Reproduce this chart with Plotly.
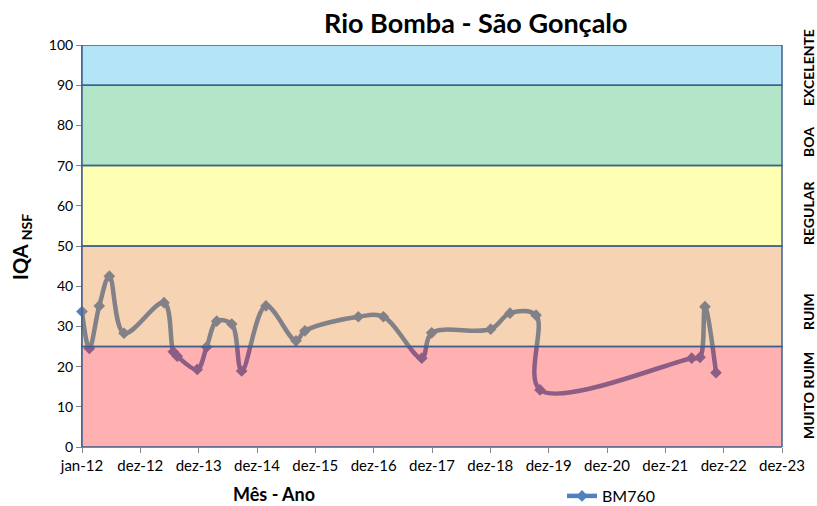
import pandas as pd
import plotly.graph_objects as go

# ---- data ----
dates = ["2012-01-01", "2012-02-16", "2012-04-18", "2012-06-20", "2012-09-20",
         "2013-05-28", "2013-07-25", "2013-08-19", "2013-12-22", "2014-02-19",
         "2014-04-23", "2014-07-26", "2014-09-26", "2015-02-25", "2015-09-01",
         "2015-10-27", "2016-09-25", "2017-03-01", "2017-10-27", "2017-12-28",
         "2019-01-01", "2019-05-02", "2019-10-12", "2019-11-06", "2022-06-12",
         "2022-08-03", "2022-09-03", "2022-11-11"]
iqa = [33.7, 24.5, 35.1, 42.5, 28.3,
       35.9, 23.7, 22.6, 19.3, 24.9,
       31.3, 30.6, 18.9, 35.1, 26.4,
       28.9, 32.4, 32.4, 22.1, 28.4,
       29.3, 33.3, 32.8, 14.2, 22.1,
       22.3, 34.9, 18.5]
series_name = "BM760"

tick_labels = ["jan-12", "dez-12", "dez-13", "dez-14", "dez-15", "dez-16", "dez-17",
               "dez-18", "dez-19", "dez-20", "dez-21", "dez-22", "dez-23"]

band_names = ["MUITO RUIM", "RUIM", "REGULAR", "BOA", "EXCELENTE"]
band_low = [0, 25, 50, 70, 90]
band_high = [25, 50, 70, 90, 100]
band_colors = ["rgba(255,29,29,0.35)", "rgba(229,129,38,0.35)", "rgba(255,255,38,0.35)",
               "rgba(38,181,98,0.35)", "rgba(38,181,232,0.35)"]
band_label_y = [396, 312, 213, 142, 68]  # pixel centres of the side labels

# ---- figure ----
W, H = 817, 506
L, R, T, B = 82, 35, 45, 59
start = pd.Timestamp("2012-01-01")
tickvals = [start + pd.Timedelta(days=365 * i) for i in range(len(tick_labels))]

FONT = "Lato, 'Open Sans', sans-serif"
BLUE = "#4F81BD"
BORDER = "#3F5F8C"

fig = go.Figure()
fig.add_trace(go.Scatter(
    x=pd.to_datetime(dates), y=iqa, name=series_name,
    mode="lines+markers",
    line=dict(color=BLUE, width=4.5, shape="spline", smoothing=1),
    marker=dict(symbol="diamond", size=9, color=BLUE),
    cliponaxis=False,
))

for lo, hi, col in zip(band_low, band_high, band_colors):
    fig.add_shape(type="rect", xref="paper", yref="y", x0=0, x1=1, y0=lo, y1=hi,
                  fillcolor=col, line=dict(color=BORDER, width=1.5), layer="above")

pw = W - L - R
ph = H - T - B
for name, py in zip(band_names, band_label_y):
    fig.add_annotation(text=f"<b>{name}</b>", xref="paper", yref="paper",
                       x=(808 - L) / pw, y=(H - B - py) / ph,
                       showarrow=False, textangle=-90,
                       font=dict(family=FONT, size=14, color="black"),
                       xanchor="center", yanchor="middle")

fig.add_annotation(text="<b>Rio Bomba - São Gonçalo</b>", xref="paper", yref="paper",
                   x=(476 - L) / pw, y=(H - B - 22) / ph, showarrow=False,
                   font=dict(family=FONT, size=27, color="black"),
                   xanchor="center", yanchor="middle")

fig.add_annotation(text="<b>Mês - Ano</b>", xref="paper", yref="paper",
                   x=(274 - L) / pw, y=(H - B - 494) / ph, showarrow=False,
                   font=dict(family=FONT, size=18, color="black"),
                   xanchor="center", yanchor="middle")

fig.add_annotation(text="<b>IQA <sub>NSF</sub></b>", xref="paper", yref="paper",
                   x=(21 - L) / pw, y=(H - B - 247) / ph, showarrow=False, textangle=-90,
                   font=dict(family=FONT, size=20, color="black"),
                   xanchor="center", yanchor="middle")

fig.update_layout(
    width=W, height=H,
    margin=dict(l=L, r=R, t=T, b=B, autoexpand=False),
    paper_bgcolor="white", plot_bgcolor="white",
    font=dict(family=FONT, size=14, color="black"),
    showlegend=True,
    legend=dict(orientation="h", x=(562 - L) / pw, y=(H - B - 496) / ph,
                xanchor="left", yanchor="middle", bgcolor="rgba(0,0,0,0)",
                font=dict(family=FONT, size=16, color="black")),
)
fig.update_xaxes(
    type="date", range=[start, tickvals[-1]],
    tickmode="array", tickvals=tickvals, ticktext=tick_labels,
    showgrid=False, zeroline=False,
    showline=True, linecolor="#868686", linewidth=1,
    ticks="outside", ticklen=5, tickcolor="#868686",
    tickfont=dict(family=FONT, size=15, color="black"),
)
fig.update_yaxes(
    range=[0, 100], tickmode="array", tickvals=list(range(0, 101, 10)),
    showgrid=False, zeroline=False,
    showline=True, linecolor="#868686", linewidth=1,
    ticks="outside", ticklen=5, tickcolor="#868686",
    tickfont=dict(family=FONT, size=14, color="black"),
)

fig.write_html("out.html", config={"displayModeBar": False},
               post_script="document.body.style.margin='0';")
